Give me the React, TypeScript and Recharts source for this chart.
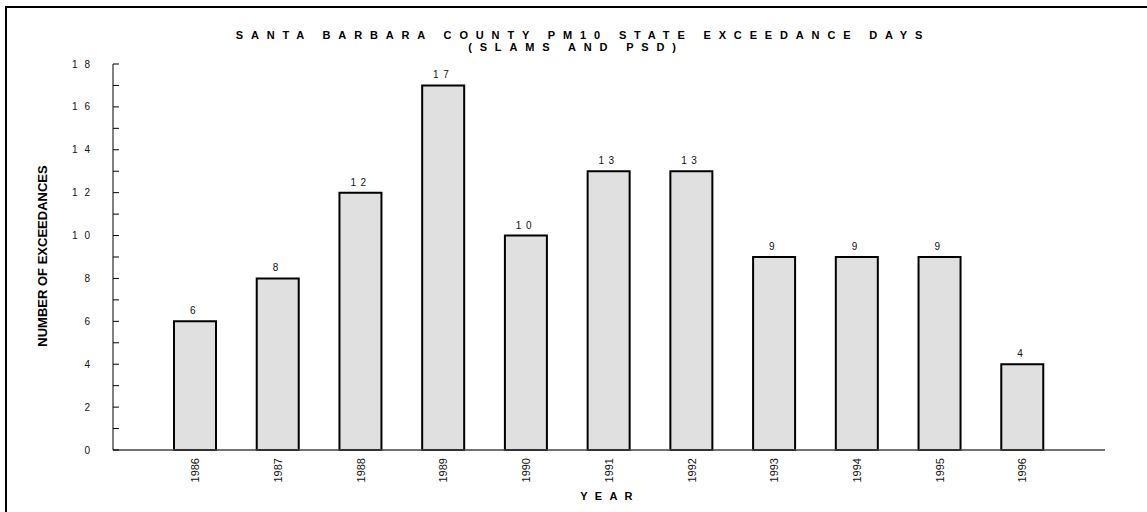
import { BarChart, Bar, XAxis, YAxis, LabelList } from "recharts";

const years = ["1986", "1987", "1988", "1989", "1990", "1991", "1992", "1993", "1994", "1995", "1996"];
const exceedanceDays = [6, 8, 12, 17, 10, 13, 13, 9, 9, 9, 4];
const yTicks = [0, 1, 2, 3, 4, 5, 6, 7, 8, 9, 10, 11, 12, 13, 14, 15, 16, 17, 18];

const data = years.map((year, i) => ({ year, days: exceedanceDays[i] }));

const FONT = '"Liberation Sans", Arial, sans-serif';

// inward tick marks on every integer, labels only on the even ones
function YTick(props: any) {
  const { x, y, payload } = props;
  const v = payload.value;
  return (
    <g>
      <line x1={x} x2={x + 6} y1={y} y2={y} stroke="#000" strokeWidth={1} />
      {v % 2 === 0 && (
        <text x={x - 16} y={y} dy={3.5} textAnchor="end" fontSize={10} fontFamily={FONT} fill="#111" letterSpacing={7}>
          {v}
        </text>
      )}
    </g>
  );
}

function XTick(props: any) {
  const { x, y, payload } = props;
  return (
    <text
      x={x}
      y={y}
      transform={`rotate(-90 ${x} ${y})`}
      dy={3.8}
      textAnchor="end"
      fontSize={11}
      fontFamily={FONT}
      fill="#111"
    >
      {payload.value}
    </text>
  );
}

const titleStyle = {
  position: "absolute" as const,
  width: 1000,
  textAlign: "center" as const,
  fontSize: 11,
  fontWeight: "bold" as const,
  letterSpacing: 7.85,
  lineHeight: "12px",
  whiteSpace: "nowrap" as const,
  color: "#000",
};

export default function App() {
  return (
    <div style={{ position: "absolute", left: 0, top: 0, width: 1147, height: 512, background: "#fff", fontFamily: FONT }}>
      {/* frame lines along the top and left edge */}
      <div style={{ position: "absolute", left: 5, top: 6, width: 1142, height: 2, background: "#000" }} />
      <div style={{ position: "absolute", left: 5, top: 6, width: 2, height: 506, background: "#000" }} />

      <div style={{ ...titleStyle, left: 583 - 500, top: 29 }}>SANTA BARBARA COUNTY PM10 STATE EXCEEDANCE DAYS</div>
      <div style={{ ...titleStyle, left: 576 - 500, top: 41 }}>(SLAMS AND PSD)</div>

      <div
        style={{
          position: "absolute",
          left: 43 - 95,
          top: 256 - 8,
          width: 190,
          height: 16,
          lineHeight: "16px",
          transform: "rotate(-90deg)",
          textAlign: "center",
          whiteSpace: "nowrap",
          fontSize: 13,
          fontWeight: "bold",
          color: "#000",
        }}
      >
        NUMBER OF EXCEEDANCES
      </div>

      <div
        style={{
          position: "absolute",
          left: 610,
          top: 496,
          transform: "translate(-50%, -50%)",
          whiteSpace: "nowrap",
          fontSize: 11,
          fontWeight: "bold",
          letterSpacing: 7.2,
          color: "#000",
        }}
      >
        YEAR
      </div>

      <div style={{ position: "absolute", left: 0, top: 0 }}>
        <BarChart width={1147} height={512} data={data} margin={{ top: 64, right: 42, left: 0, bottom: 0 }}>
          <XAxis
            dataKey="year"
            height={62}
            padding={{ left: 41, right: 41 }}
            axisLine={{ stroke: "#444", strokeWidth: 1.5 }}
            tickLine={false}
            tickSize={0}
            tickMargin={8}
            interval={0}
            tick={<XTick />}
          />
          <YAxis
            width={113}
            domain={[0, 18]}
            ticks={yTicks}
            interval={0}
            axisLine={{ stroke: "#000", strokeWidth: 1 }}
            tickLine={false}
            tickSize={0}
            tickMargin={0}
            tick={<YTick />}
          />
          <Bar dataKey="days" barSize={42} fill="#e0e0e0" stroke="#000" strokeWidth={2} isAnimationActive={false}>
            <LabelList
              dataKey="days"
              position="top"
              offset={7}
              fontSize={10}
              fontFamily={FONT}
              fill="#111"
              letterSpacing={4.5}
            />
          </Bar>
        </BarChart>
      </div>
    </div>
  );
}
